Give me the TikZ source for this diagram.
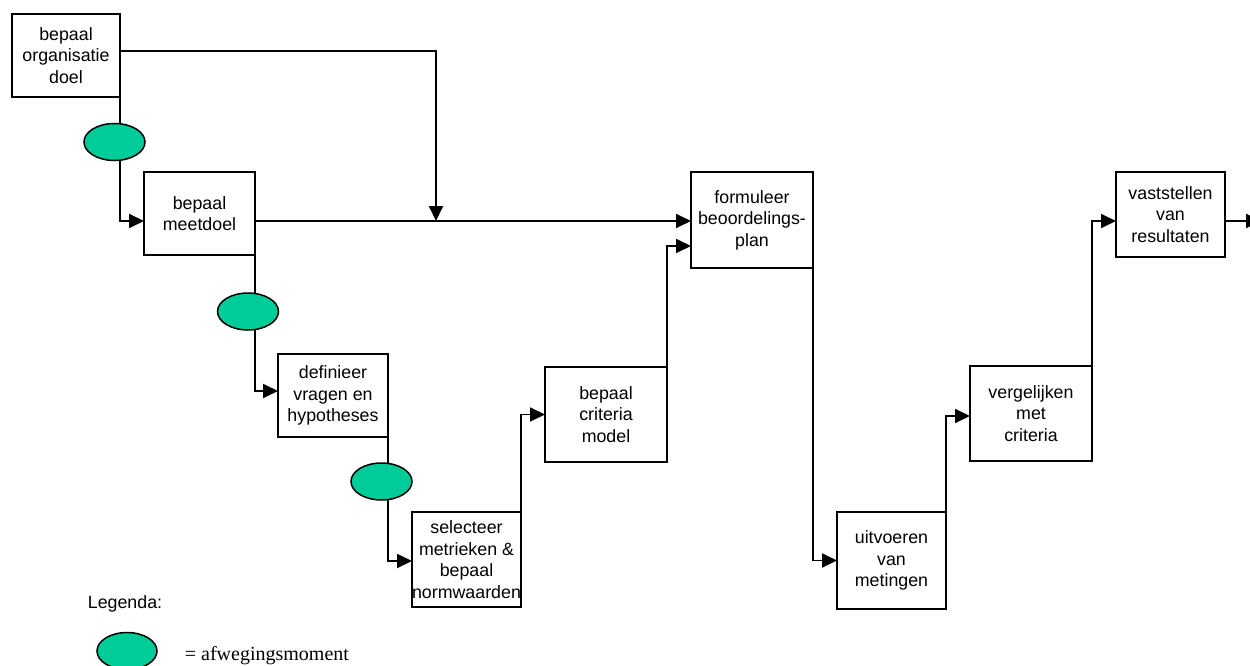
\documentclass[tikz,border=0pt]{standalone}
\usepackage{fontspec}
\setmainfont{Liberation Sans}
\newfontfamily\legendafont{Liberation Serif}
\usetikzlibrary{arrows.meta,shapes.geometric}

\definecolor{keuzegroen}{RGB}{0,204,153}
\newcommand\staptekst{\fontsize{17.8}{21.5}\selectfont}

\begin{document}
\begin{tikzpicture}[x=1pt,y=-1pt,>={Triangle[length=15pt,width=14pt]},line width=1.8pt,
    stap/.style={draw,rectangle,align=center,inner sep=0pt,outer sep=0pt,font=\staptekst},
    keuze/.style={draw,ellipse,fill=keuzegroen,line width=1.5pt,inner sep=0pt,minimum width=61pt,minimum height=37pt}]

                \useasboundingbox (0,0) rectangle (1250,666);

                % stappen
                \node[stap,minimum width=108pt,minimum height=83pt] (org) at (66,55.5) {bepaal\\organisatie\\doel};
                \node[stap,minimum width=111pt,minimum height=83pt] (meet) at (199.5,213.5) {bepaal\\meetdoel};
                \node[stap,minimum width=110pt,minimum height=83pt] (def) at (333,395.5) {definieer\\vragen en\\hypotheses};
                \node[stap,minimum width=109pt,minimum height=95pt] (sel) at (466.5,559.5) {selecteer\\metrieken \&\\bepaal\\normwaarden};
                \node[stap,minimum width=122pt,minimum height=95pt] (crit) at (606,414.5) {bepaal\\criteria\\model};
                \node[stap,minimum width=122pt,minimum height=96pt] (form) at (752,220) {formuleer\\beoordelings-\\plan};
                \node[stap,minimum width=109pt,minimum height=97pt] (uit) at (891.5,560.5) {uitvoeren\\van\\metingen};
                \node[stap,minimum width=122pt,minimum height=95pt] (verg) at (1031,413.5) {vergelijken\\met\\criteria};
                \node[stap,minimum width=109pt,minimum height=85pt] (vast) at (1170.5,214.5) {vaststellen\\van\\resultaten};

                \coordinate (kruis) at (436,221);
                \coordinate (rand) at (1261,221);

                % verbindingen
                \draw[->] ([yshift=4.5pt]org.east) -| (kruis);
                \draw[->] (org.south east) |- (meet.west |- kruis);
                \draw[->] (meet.east |- kruis) -- (form.west |- kruis);
                \draw[->] (meet.south east) |- ([yshift=4.5pt]def.west);
                \draw[->] (def.south east) |- ([yshift=-1.5pt]sel.west);
                \draw[->] (sel.north east) |- (crit.west);
                \draw[->] (crit.north east) |- ([yshift=-26pt]form.west);
                \draw[->] (form.south east) |- (uit.west);
                \draw[->] (uit.north east) |- ([yshift=-2.5pt]verg.west);
                \draw[->] (verg.north east) |- (vast.west |- kruis);
                \draw[->] (vast.east |- kruis) -- (rand);

                % afwegingsmomenten
                \node[keuze] (keuze1) at (114.5,142) {};
                \node[keuze] (keuze2) at (248,311.5) {};
                \node[keuze] (keuze3) at (381.5,481.5) {};

                % legenda
                \node[anchor=base west,inner sep=0pt,font=\staptekst] (legenda) at (87,608) {Legenda:};
                \node[keuze,minimum width=60pt] (voorbeeld) at (127,651) {};
                \node[anchor=base west,inner sep=0pt,font=\legendafont\fontsize{20}{24}\selectfont] (uitleg) at (184,660) {= afwegingsmoment};

            \end{tikzpicture}
\end{document}
